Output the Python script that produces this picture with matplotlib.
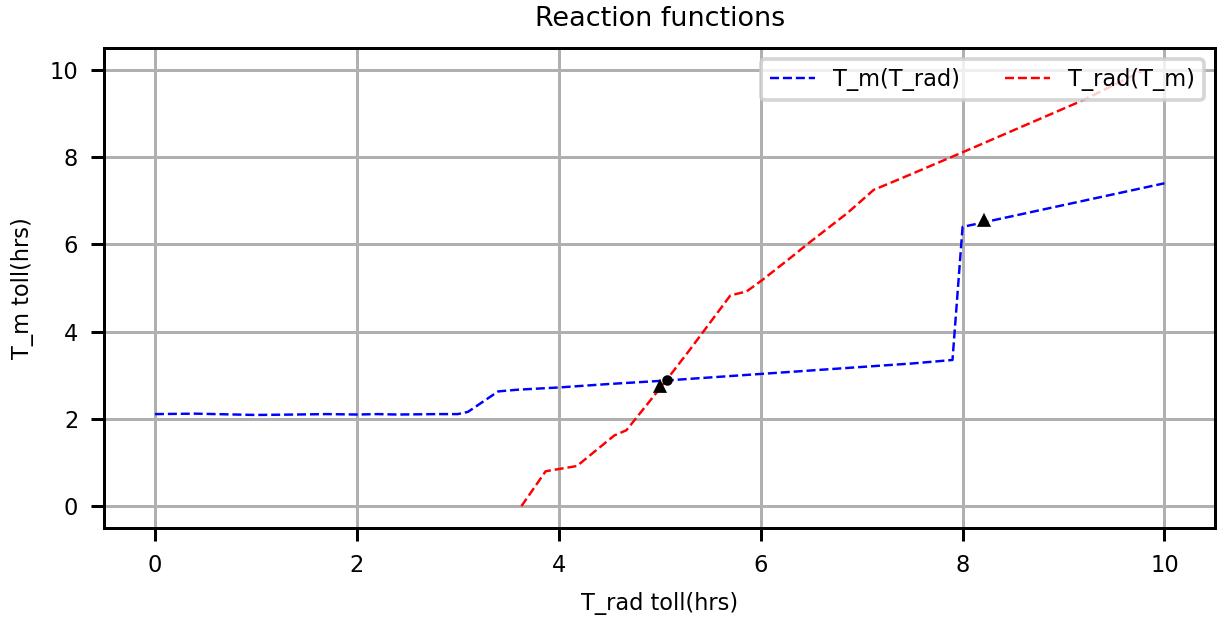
import matplotlib
matplotlib.use("Agg")
import matplotlib.pyplot as plt

# T_m as a function of T_rad (blue)
t_rad_grid = [0.0, 0.4, 0.6, 1.0, 1.4, 1.7, 2.0, 2.2, 2.4, 2.8, 3.0, 3.1, 3.4, 3.6,
              4.0, 4.5, 5.0, 5.5, 6.0, 6.5, 7.0, 7.5, 7.9, 8.0, 8.5, 9.0, 9.5, 10.0]
t_m_of_rad = [2.11, 2.12, 2.11, 2.09, 2.10, 2.11, 2.10, 2.11, 2.10, 2.11, 2.11, 2.16, 2.63, 2.67,
              2.72, 2.80, 2.87, 2.95, 3.03, 3.11, 3.19, 3.27, 3.35, 6.40, 6.65, 6.90, 7.15, 7.40]

# T_rad as a function of T_m (red)
t_m_grid = [0.0, 0.80, 0.92, 1.62, 1.74, 2.75, 3.59, 4.83, 4.92, 5.19, 5.70, 6.00,
            6.72, 7.25, 7.50, 8.09, 9.31, 10.0]
t_rad_of_m = [3.63, 3.87, 4.18, 4.55, 4.67, 5.02, 5.30, 5.70, 5.86, 6.02, 6.30, 6.46,
              6.86, 7.12, 7.38, 7.98, 9.20, 9.80]

# equilibrium markers
tri_x = [5.00, 8.21]
tri_y = [2.74, 6.53]
dot_x = [5.07]
dot_y = [2.89]

DPI = 270
plt.rcParams["font.size"] = 6.0
fig = plt.figure(figsize=(1226 / DPI, 621 / DPI), dpi=DPI)
ax = fig.add_axes([0.0852, 0.1498, 0.9910 - 0.0852, 0.9227 - 0.1498])

ax.plot(t_rad_grid, t_m_of_rad, "b--", lw=0.65, label="T_m(T_rad)")
ax.plot(t_rad_of_m, t_m_grid, "r--", lw=0.65, label="T_rad(T_m)")
ax.plot(tri_x, tri_y, "k^", ms=2.0)
ax.plot(dot_x, dot_y, "ko", ms=1.8)

ax.set_xlim(-0.5, 10.5)
ax.set_ylim(-0.5, 10.5)
ax.grid(True)
ax.set_xlabel("T_rad toll(hrs)")
ax.set_ylabel("T_m toll(hrs)")
ax.set_title("Reaction functions")
ax.legend(loc="upper right", ncol=2)

fig.savefig("out.png", dpi=DPI)
